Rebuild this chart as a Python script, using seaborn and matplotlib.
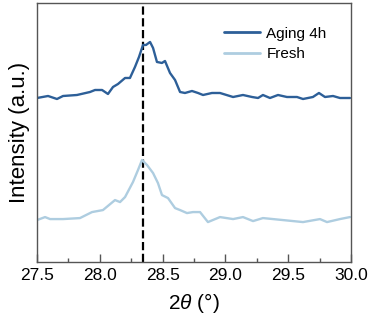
import numpy as np
import pandas as pd
import matplotlib
matplotlib.use("Agg")
import matplotlib.pyplot as plt
import seaborn as sns

# ---- data (arbitrary intensity units) ----
aging_2theta = [27.500, 27.588, 27.659, 27.707, 27.818, 27.922, 27.962, 28.018, 28.065,
                28.105, 28.145, 28.201, 28.240, 28.280, 28.312, 28.344, 28.368, 28.400,
                28.424, 28.455, 28.495, 28.519, 28.559, 28.599, 28.639, 28.678, 28.734,
                28.782, 28.822, 28.893, 28.957, 29.061, 29.140, 29.212, 29.260, 29.299,
                29.355, 29.419, 29.490, 29.570, 29.618, 29.697, 29.745, 29.793, 29.857,
                29.912, 29.992]
aging_int = [164, 166, 163, 166, 167, 170, 172, 172, 168, 175, 178, 184, 184, 195, 205,
             217, 217, 220, 214, 200, 199, 201, 189, 182, 170, 169, 171, 169, 167, 169,
             169, 165, 167, 165, 164, 167, 164, 167, 165, 165, 163, 165, 169, 165, 166,
             164, 164]

fresh_2theta = [27.500, 27.564, 27.604, 27.707, 27.842, 27.938, 28.025, 28.121, 28.161,
                28.201, 28.264, 28.304, 28.336, 28.376, 28.424, 28.463, 28.495, 28.543,
                28.599, 28.639, 28.694, 28.742, 28.798, 28.861, 28.957, 29.061, 29.140,
                29.220, 29.299, 29.459, 29.618, 29.753, 29.809, 29.912, 29.992]
fresh_int = [42, 45, 43, 43, 44, 50, 52, 62, 60, 65, 80, 92, 102, 97, 89, 79, 67, 64,
             54, 52, 49, 50, 50, 40, 45, 43, 45, 41, 44, 42, 40, 43, 40, 43, 45]

series_names = ["Aging 4h", "Fresh"]
series_colors = ["#2d5f98", "#aecde0"]
peak_position = 28.34
xticks = [27.5, 28.0, 28.5, 29.0, 29.5, 30.0]

df = pd.concat([
    pd.DataFrame({"2theta": aging_2theta, "I": aging_int, "sample": series_names[0]}),
    pd.DataFrame({"2theta": fresh_2theta, "I": fresh_int, "sample": series_names[1]}),
])

sns.set_style("ticks")
plt.rcParams["font.family"] = ["Liberation Sans", "DejaVu Sans"]
plt.rcParams["mathtext.fontset"] = "custom"
plt.rcParams["mathtext.it"] = "Liberation Sans:italic"
plt.rcParams["mathtext.rm"] = "Liberation Sans"
plt.rcParams["text.color"] = "black"
plt.rcParams["axes.labelcolor"] = "black"
plt.rcParams["xtick.color"] = "black"

fig = plt.figure(figsize=(3.72, 3.26), dpi=100)
ax = fig.add_axes([0.0995, 0.196, 0.844, 0.795])

sns.lineplot(data=df, x="2theta", y="I", hue="sample", hue_order=series_names,
             palette=series_colors, linewidth=1.7, ax=ax, sort=True, estimator=None)

ax.axvline(peak_position, color="black", linestyle="--", linewidth=1.6, zorder=0.5)

ax.set_xlim(27.5, 30.0)
ax.set_ylim(0, 259)
ax.set_xticks(xticks)
ax.set_xticklabels([f"{t:.1f}" for t in xticks])
ax.set_xticks(np.arange(27.5, 30.01, 0.25), minor=True)
ax.set_yticks([])
ax.tick_params(axis="x", which="major", direction="in", length=6, width=1,
               labelsize=12.5, color="#555555", labelcolor="black", pad=4)
ax.tick_params(axis="x", which="minor", direction="in", length=3, width=1,
               color="#555555")
for s in ax.spines.values():
    s.set_color("#555555")
    s.set_linewidth(1.0)

ax.set_xlabel(r"2$\theta$ (°)", fontsize=15, labelpad=6, color="black")
ax.set_ylabel("Intensity (a.u.)", fontsize=16, labelpad=5, color="black")

leg = ax.legend(loc="upper right", bbox_to_anchor=(0.952, 0.944), frameon=False,
                fontsize=11, handlelength=2.4, handletextpad=0.4, labelspacing=0.42,
                borderaxespad=0.2)
for line in leg.get_lines():
    line.set_linewidth(2.0)
for t in leg.get_texts():
    t.set_color("black")

fig.savefig("out.png", dpi=100)
